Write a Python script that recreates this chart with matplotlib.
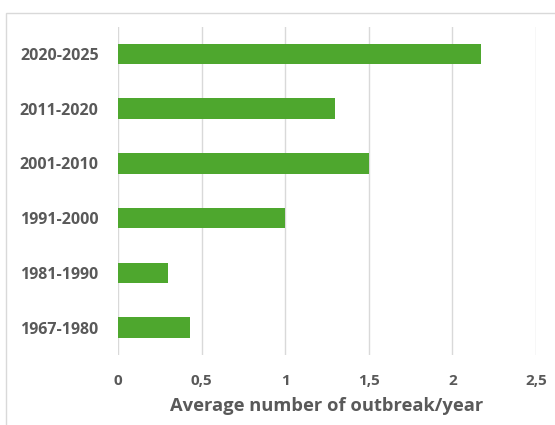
import matplotlib
matplotlib.use("Agg")
import matplotlib.pyplot as plt
from matplotlib.patches import Rectangle
from matplotlib.ticker import FuncFormatter

# Data
periods = ["1967-1980", "1981-1990", "1991-2000", "2001-2010", "2011-2020", "2020-2025"]
outbreaks_per_year = [0.43, 0.30, 1.00, 1.50, 1.30, 2.17]
x_ticks = [0, 0.5, 1, 1.5, 2, 2.5]

GREEN = "#4ea72e"
TXT = "#595959"
GRID = "#d9d9d9"

plt.rcParams['font.family'] = ['Open Sans', 'DejaVu Sans']

fig = plt.figure(figsize=(5.55, 4.25), dpi=100)
W, H = 555, 425

# chart border (cut off at right/bottom like the screenshot)
fig.patches.append(Rectangle((6 / W, -0.1), 1.2, 1 - 13.5 / H + 0.1,
                             transform=fig.transFigure, fill=False,
                             edgecolor="#d9d9d9", linewidth=1.0))

ax = fig.add_axes([118 / W, 1 - 355 / H, (536 - 118) / W, (355 - 26.5) / H])

ax.barh(range(len(periods)), outbreaks_per_year, height=0.37, color=GREEN, zorder=3)

ax.set_xlim(0, 2.5)
ax.set_ylim(-0.5, len(periods) - 0.5)
ax.set_xticks(x_ticks)
ax.xaxis.set_major_formatter(FuncFormatter(lambda v, p: f"{v:g}".replace(".", ",")))
ax.set_yticks(range(len(periods)))
ax.set_yticklabels(periods)

ax.grid(axis="x", color=GRID, linewidth=1.0, zorder=0)
for s in ax.spines.values():
    s.set_visible(False)
ax.tick_params(axis="both", length=0, colors=TXT)
ax.tick_params(axis="x", pad=14, labelsize=11)
ax.tick_params(axis="y", pad=14, labelsize=11.5)
for lab in ax.get_xticklabels() + ax.get_yticklabels():
    lab.set_fontweight("bold")

ax.set_xlabel("Average number of outbreak/year", color=TXT, fontsize=13.2,
              fontweight="bold", labelpad=6)

fig.savefig("out.png", dpi=100)
